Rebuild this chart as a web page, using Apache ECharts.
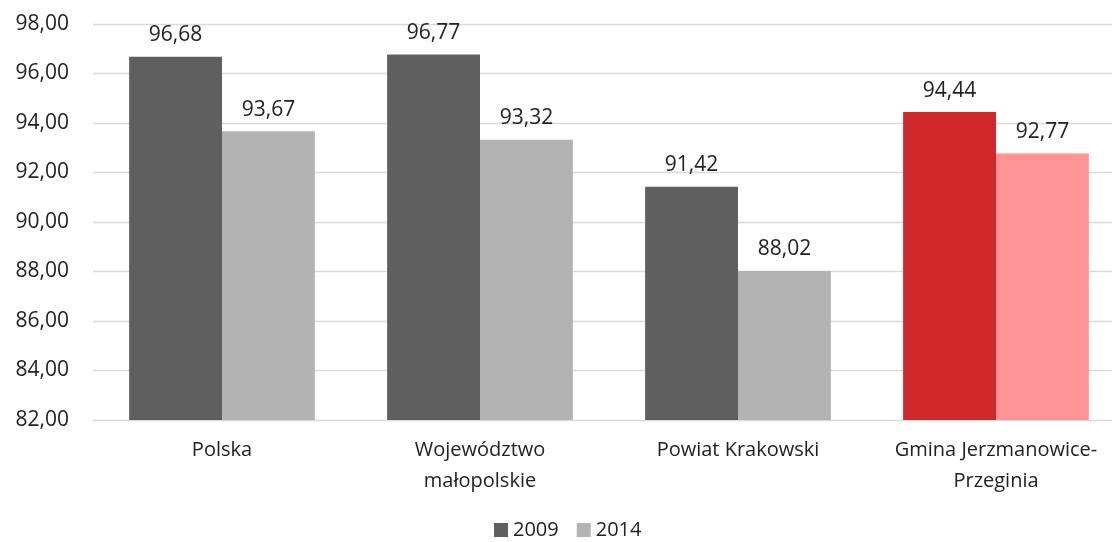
<!DOCTYPE html>
<html><head><meta charset="utf-8">
<script src="https://cdn.jsdelivr.net/npm/echarts@6/dist/echarts.min.js"></script>
<style>html,body{margin:0;padding:0;background:#fff;overflow:hidden}#c{width:1126px;height:542px}</style>
</head><body><div id="c"></div>
<script>
const categories = ["Polska", "Województwo\nmałopolskie", "Powiat Krakowski", "Gmina Jerzmanowice-\nPrzeginia"];
const values2009 = [96.68, 96.77, 91.42, 94.44];
const values2014 = [93.67, 93.32, 88.02, 92.77];
const yTicks = [82, 84, 86, 88, 90, 92, 94, 96, 98];

const fmt = v => v.toFixed(2).replace('.', ',');
const FONT = "'Open Sans', sans-serif";
const chart = echarts.init(document.getElementById('c'));
function mk(vals, base, hi) {
  return vals.map((v, i) => i === 3 ? { value: v, itemStyle: { color: hi } } : { value: v, itemStyle: { color: base } });
}
chart.setOption({
  animation: false,
  textStyle: { fontFamily: FONT },
  legend: {
    bottom: -3, left: 489, itemWidth: 14, itemHeight: 14, itemGap: 18,
    icon: 'rect',
    textStyle: { fontSize: 20, color: '#222', fontFamily: FONT },
    data: [{ name: '2009', itemStyle: { color: '#5f5f5f' } }, { name: '2014', itemStyle: { color: '#b3b3b3' } }]
  },
  grid: { left: 93, right: 1, top: 24, bottom: 122 },
  xAxis: {
    type: 'category', data: categories,
    axisLine: { show: true, lineStyle: { color: '#d9d9d9' } },
    axisTick: { show: false },
    axisLabel: { fontSize: 20, color: '#222', margin: 15, lineHeight: 31, fontFamily: FONT, interval: 0 }
  },
  yAxis: {
    type: 'value', min: yTicks[0], max: yTicks[yTicks.length - 1], interval: 2,
    axisLine: { show: false }, axisTick: { show: false },
    splitLine: { lineStyle: { color: '#d9d9d9', width: 1.3 } },
    axisLabel: { fontSize: 21, color: '#222', margin: 24, formatter: fmt, fontFamily: FONT }
  },
  series: [
    { name: '2009', type: 'bar', data: mk(values2009, '#5f5f5f', '#d0282a'), barGap: '0%', barCategoryGap: '28%',
      itemStyle: { color: '#5f5f5f' },
      label: { show: true, position: 'top', distance: 11, fontSize: 21, color: '#222', fontFamily: FONT, formatter: p => fmt(p.value) } },
    { name: '2014', type: 'bar', data: mk(values2014, '#b3b3b3', '#ff9494'), barGap: '0%', barCategoryGap: '28%',
      itemStyle: { color: '#b3b3b3' },
      label: { show: true, position: 'top', distance: 11, fontSize: 21, color: '#222', fontFamily: FONT, formatter: p => fmt(p.value) } }
  ]
});
</script></body></html>
